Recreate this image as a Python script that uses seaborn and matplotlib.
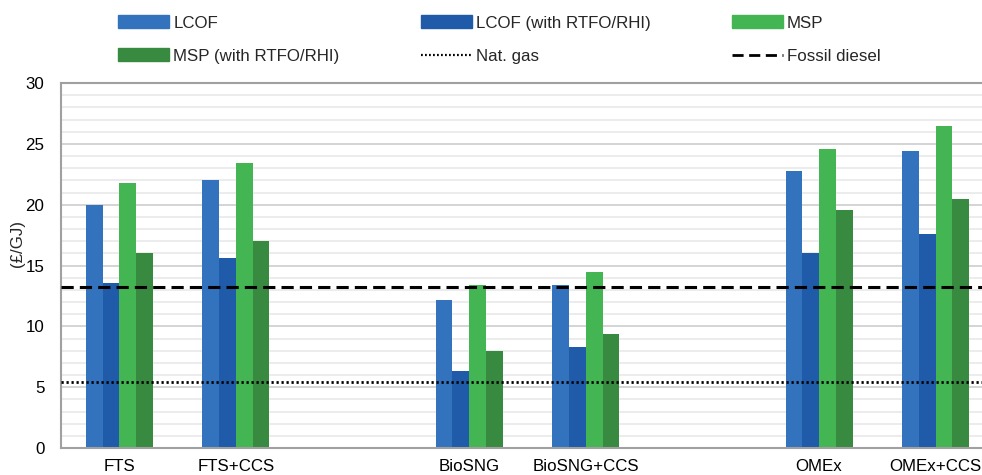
import matplotlib.pyplot as plt
import seaborn as sns
import pandas as pd
from matplotlib.lines import Line2D
from matplotlib.patches import Patch

# data
pathways = ['FTS', 'FTS+CCS', 'BioSNG', 'BioSNG+CCS', 'OMEx', 'OMEx+CCS']
slots = ['FTS', 'FTS+CCS', ' ', 'BioSNG', 'BioSNG+CCS', '  ', 'OMEx', 'OMEx+CCS']
lcof = [20.0, 22.0, 12.2, 13.4, 22.8, 24.4]
lcof_rtfo = [13.6, 15.6, 6.3, 8.3, 16.0, 17.6]
msp = [21.8, 23.4, 13.4, 14.5, 24.6, 26.5]
msp_rtfo = [16.0, 17.0, 8.0, 9.4, 19.6, 20.5]
nat_gas = 5.45
fossil_diesel = 13.2

series = ['LCOF', 'LCOF (with RTFO/RHI)', 'MSP', 'MSP (with RTFO/RHI)']
colors = ['#3373BE', '#1F5BA8', '#43B552', '#388A40']

rows = []
for name, vals in zip(series, [lcof, lcof_rtfo, msp, msp_rtfo]):
    for p, v in zip(pathways, vals):
        rows.append({'pathway': p, 'series': name, 'value': v})
df = pd.DataFrame(rows)

sns.set_style('white')
plt.rcParams['font.family'] = ['Liberation Sans', 'DejaVu Sans']
fs = 12.2

fig = plt.figure(figsize=(9.82, 4.75), dpi=100)
ax = fig.add_axes([61 / 982, 1 - 448 / 475, 933 / 982, 365 / 475])

sns.barplot(data=df, x='pathway', y='value', hue='series', order=slots,
            hue_order=series, palette=colors, width=0.575, gap=0,
            saturation=1, linewidth=0, legend=False, ax=ax)

ax.axhline(nat_gas, color='black', linestyle=(0, (0.8, 1.0)), linewidth=2.0, zorder=5)
ax.axhline(fossil_diesel, color='black', linestyle=(0, (4, 2)), linewidth=2.2, zorder=5)

ax.set_ylim(0, 30)
ax.set_xlim(-0.5, 7.5)
ax.set_yticks(range(0, 31, 5))
ax.set_yticks(range(0, 31, 1), minor=True)
ax.grid(axis='y', which='minor', color='#e9e9e9', linewidth=1.2, zorder=0)
ax.grid(axis='y', which='major', color='#d4d4d4', linewidth=1.4, zorder=0)
ax.set_axisbelow(True)
ax.tick_params(axis='both', which='both', length=0, labelsize=fs, colors='black')
ax.tick_params(axis='y', pad=12)
ax.tick_params(axis='x', pad=8)
for s in ['left', 'bottom', 'top', 'right']:
    ax.spines[s].set_color('#a0a0a0')
    ax.spines[s].set_linewidth(1.5)
ax.set_xlabel('')
ax.set_ylabel('(£/GJ)', fontsize=fs)
ax.yaxis.set_label_coords(-0.039, 0.56)

h = [Patch(color=c) for c in colors]
h_gas = Line2D([], [], color='black', linestyle=(0, (0.8, 1.0)), linewidth=1.6)
h_dsl = Line2D([], [], color='black', linestyle=(0, (4, 2)), linewidth=2.0)
handles = [h[0], h[3], h[1], h_gas, h[2], h_dsl]
labels = [series[0], series[3], series[1], 'Nat. gas', series[2], 'Fossil diesel']
fig.legend(handles, labels, ncol=3, loc='upper left', bbox_to_anchor=(103 / 982, 1.0),
           frameon=False, fontsize=fs, handlelength=3.0, handleheight=0.8,
           handletextpad=0.25, columnspacing=4.8, labelspacing=1.05)

fig.savefig('out.png', dpi=100)
